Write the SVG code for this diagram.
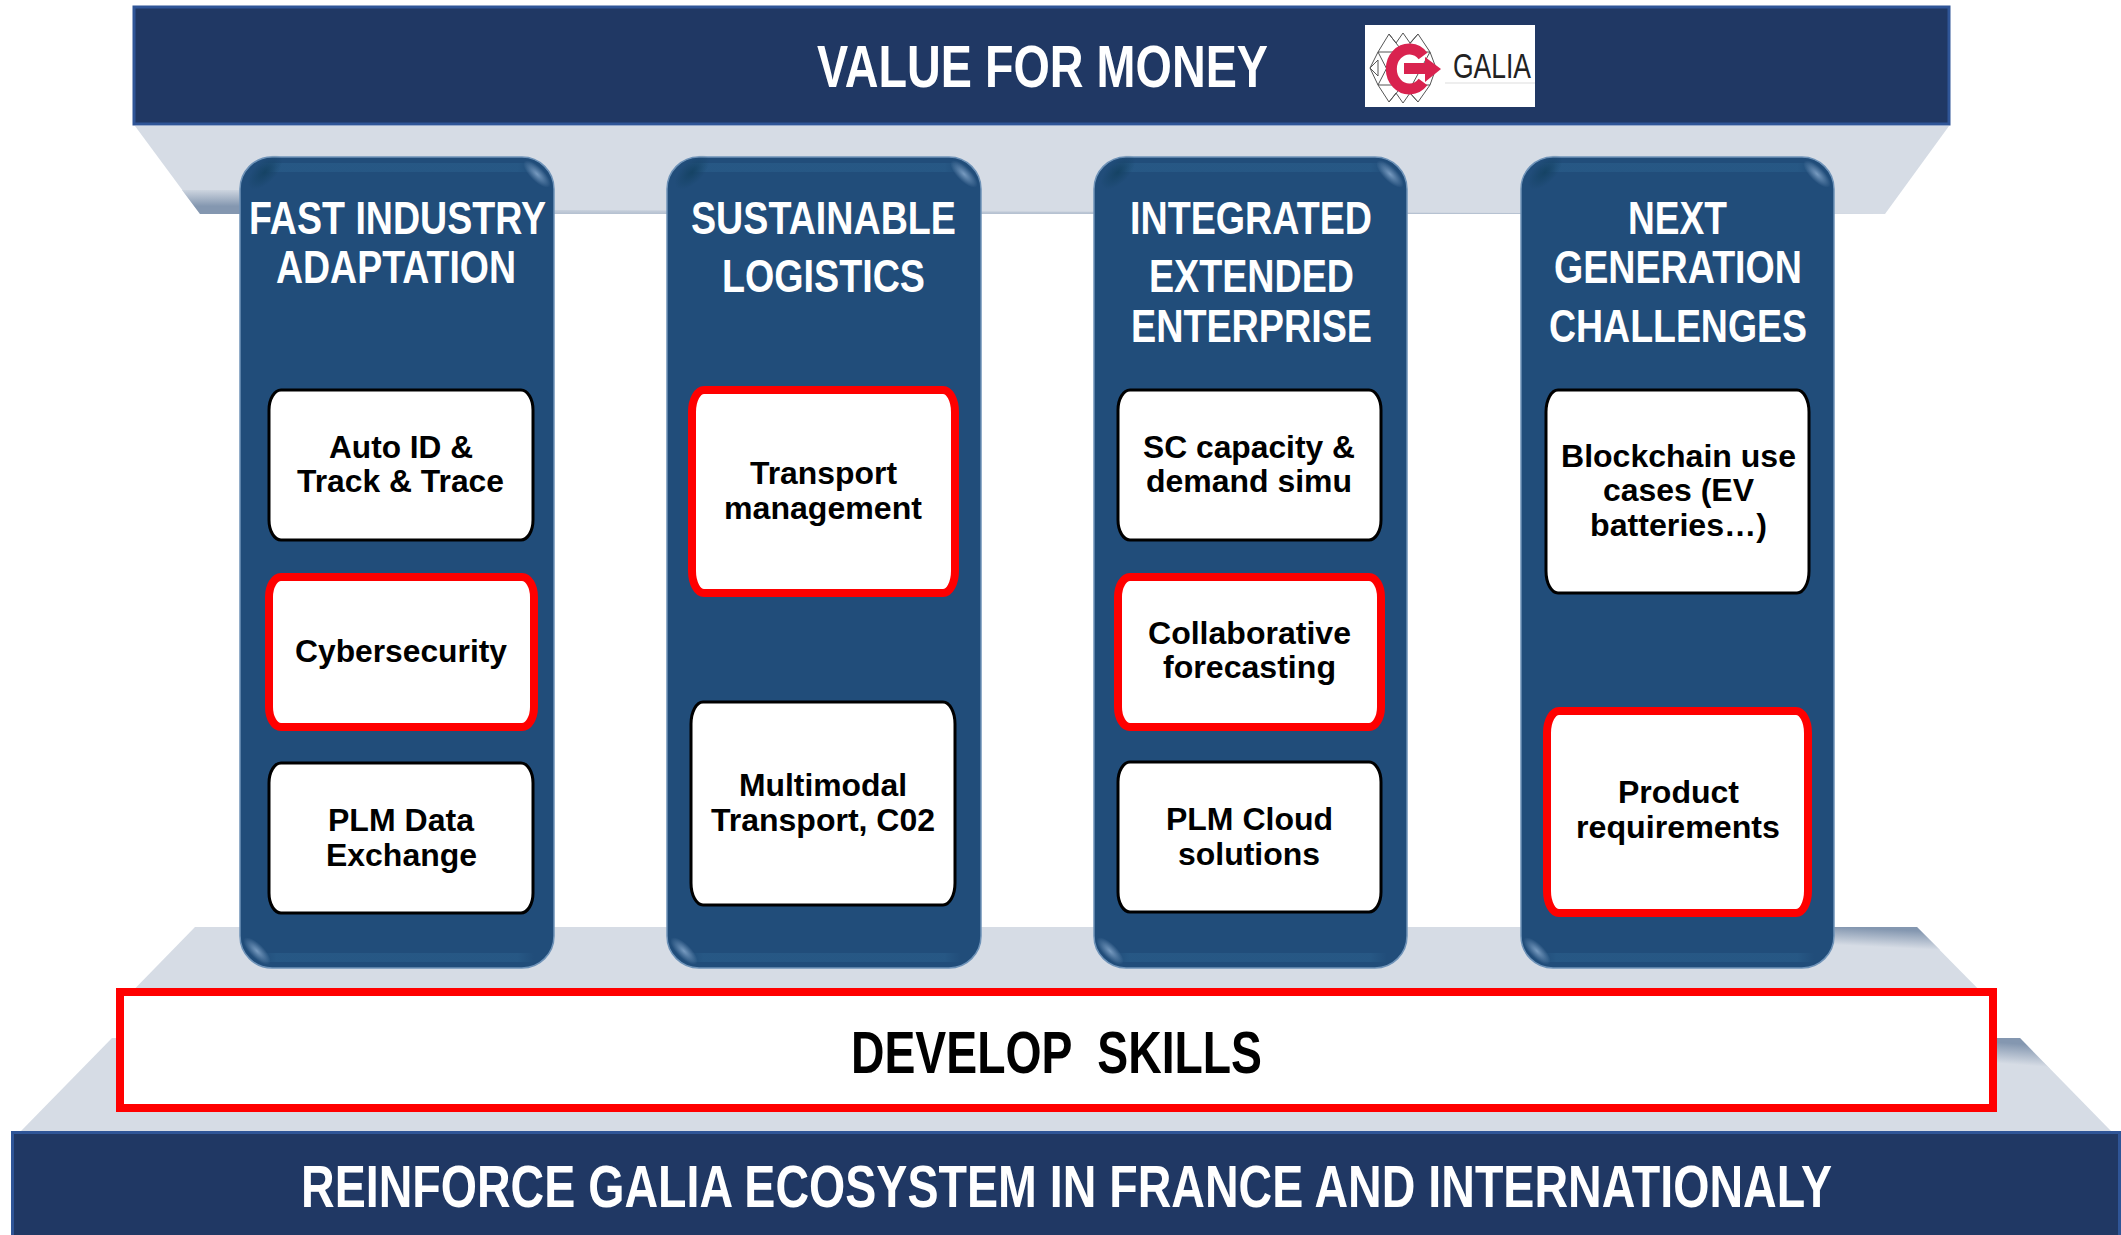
<svg xmlns="http://www.w3.org/2000/svg" width="2121" height="1235" viewBox="0 0 2121 1235">
<style>
.band{fill:#203864;stroke:#2f5597;stroke-width:3}
.plat{fill:#d6dce5}
.pil{fill:#214d7a;stroke:#6f93b8;stroke-width:1.5}
.box{fill:#fff;stroke:#000;stroke-width:3}
.red{fill:#fff;stroke:#f00;stroke-width:8}
.flake{fill:none;stroke:#555;stroke-width:1}
text{font-family:"Liberation Sans",Arial,sans-serif;font-weight:700;text-anchor:start}
.t{fill:#fff;font-size:46px}
.big{font-size:59px}
.b{fill:#000;font-size:32px}
</style>
<defs>
<linearGradient id="sh1" gradientUnits="userSpaceOnUse" x1="0" y1="214" x2="0" y2="188"><stop offset="0" stop-color="#8497b0"/><stop offset="0.3" stop-color="#8497b0"/><stop offset="1" stop-color="#d6dce5"/></linearGradient>
<linearGradient id="sh2" gradientUnits="userSpaceOnUse" x1="1880" y1="927" x2="1879" y2="947"><stop offset="0.1" stop-color="#8497b0"/><stop offset="1" stop-color="#d6dce5"/></linearGradient>
<linearGradient id="sh3" gradientUnits="userSpaceOnUse" x1="2010" y1="1038" x2="2008" y2="1064"><stop offset="0.2" stop-color="#8497b0"/><stop offset="1" stop-color="#d6dce5"/></linearGradient>
<linearGradient id="sh4" gradientUnits="userSpaceOnUse" x1="0" y1="214" x2="0" y2="207"><stop offset="0" stop-color="#b4c0d0"/><stop offset="1" stop-color="#d6dce5"/></linearGradient>
<linearGradient id="lit" x1="0" y1="0" x2="1" y2="0"><stop offset="0" stop-color="#285a87" stop-opacity="0"/><stop offset="0.06" stop-color="#285a87"/><stop offset="0.94" stop-color="#285a87"/><stop offset="1" stop-color="#285a87" stop-opacity="0"/></linearGradient>
<radialGradient id="hl"><stop offset="0" stop-color="#86a8cc" stop-opacity="0.85"/><stop offset="1" stop-color="#86a8cc" stop-opacity="0"/></radialGradient>
<radialGradient id="dk"><stop offset="0" stop-color="#12405f" stop-opacity="0.8"/><stop offset="1" stop-color="#12405f" stop-opacity="0"/></radialGradient>
<symbol id="pillar-shading" viewBox="0 0 314 811" width="314" height="811" overflow="visible">
<rect x="20" y="6" width="274" height="9" fill="url(#lit)" opacity="0.8"/>
<rect x="20" y="796" width="274" height="9" fill="url(#lit)" opacity="0.8"/>
<ellipse cx="25" cy="15" rx="22" ry="11" fill="url(#dk)" transform="rotate(-45 25 15)"/>
<ellipse cx="297" cy="17" rx="18" ry="7" fill="url(#hl)" transform="rotate(45 297 17)"/>
<ellipse cx="17" cy="794" rx="18" ry="7" fill="url(#hl)" transform="rotate(45 17 794)"/>
</symbol>
</defs>
<g id="platforms">
<polygon class="plat" points="135,126 1949,126 1885,214 200,214"/>
<polygon fill="url(#sh1)" points="182,190 245,190 245,214 200,214"/>
<polygon fill="url(#sh4)" points="554,210 1885,214 554,214"/>
<polygon class="plat" points="195,927 1917,927 1997,1008 116,1008"/>
<polygon class="plat" points="112,1038 2020,1038 2111,1131 21,1131"/>
<polygon fill="url(#sh2)" points="1834,927 1917,927 1940,950 1834,950"/>
<polygon fill="url(#sh3)" points="1997,1038 2020,1038 2050,1069 1997,1069"/>
</g>
<g id="value-for-money">
<rect class="band" x="134" y="7" width="1815" height="117"/>
<text class="t big" x="817" y="87" textLength="451" lengthAdjust="spacingAndGlyphs">VALUE FOR MONEY</text>
</g>
<g id="galia-logo">
<rect x="1365" y="25" width="170" height="82" fill="#fff"/>
<path class="flake" d="M1378 52H1430M1378 85H1430M1370 68L1378 52L1389 34L1396 43L1403 33L1410 43L1418 34L1430 52L1436 68L1430 85L1418 102L1410 93L1403 103L1396 93L1389 102L1378 85ZM1389 34L1403 52L1418 34M1389 102L1403 85L1418 102M1370 68L1378 60V76ZM1378 52L1395 85M1430 52L1412 85M1395 52L1378 85"/>
<path d="M1423 56a18 20 0 1 0 0 26" fill="none" stroke="#d9234f" stroke-width="11"/>
<path d="M1404 63H1425V57L1441 69L1425 82V74H1404Z" fill="#d9234f"/>
<path d="M1445 83H1535" stroke="#ddd" stroke-width="1"/>
<text x="1453" y="78" font-size="35" textLength="78" lengthAdjust="spacingAndGlyphs" style="font-weight:400" fill="#222">GALIA</text>
</g>
<g id="pillar-1">
<rect class="pil" x="240" y="157" width="314" height="811" rx="32"/>
<use href="#pillar-shading" x="240" y="157"/>
<text class="t" x="249" y="234" textLength="297" lengthAdjust="spacingAndGlyphs">FAST INDUSTRY</text>
<text class="t" x="276" y="283" textLength="240" lengthAdjust="spacingAndGlyphs">ADAPTATION</text>
</g>
<g id="pillar-2">
<rect class="pil" x="667" y="157" width="314" height="811" rx="32"/>
<use href="#pillar-shading" x="667" y="157"/>
<text class="t" x="691" y="234" textLength="265" lengthAdjust="spacingAndGlyphs">SUSTAINABLE</text>
<text class="t" x="722" y="292" textLength="203" lengthAdjust="spacingAndGlyphs">LOGISTICS</text>
</g>
<g id="pillar-3">
<rect class="pil" x="1094" y="157" width="313" height="811" rx="32"/>
<use href="#pillar-shading" x="1093" y="157"/>
<text class="t" x="1130" y="234" textLength="242" lengthAdjust="spacingAndGlyphs">INTEGRATED</text>
<text class="t" x="1149" y="292" textLength="205" lengthAdjust="spacingAndGlyphs">EXTENDED</text>
<text class="t" x="1131" y="342" textLength="241" lengthAdjust="spacingAndGlyphs">ENTERPRISE</text>
</g>
<g id="pillar-4">
<rect class="pil" x="1521" y="157" width="313" height="811" rx="32"/>
<use href="#pillar-shading" x="1520" y="157"/>
<text class="t" x="1628" y="234" textLength="99" lengthAdjust="spacingAndGlyphs">NEXT</text>
<text class="t" x="1554" y="283" textLength="248" lengthAdjust="spacingAndGlyphs">GENERATION</text>
<text class="t" x="1549" y="342" textLength="258" lengthAdjust="spacingAndGlyphs">CHALLENGES</text>
</g>
<g id="auto-id"><rect class="box" x="269" y="390" width="264" height="150" rx="12" ry="20"/>
<text class="b" x="329" y="458" textLength="144" lengthAdjust="spacingAndGlyphs">Auto ID &amp;</text>
<text class="b" x="297" y="492" textLength="207" lengthAdjust="spacingAndGlyphs">Track &amp; Trace</text></g>
<g id="cybersecurity"><rect class="red" x="269" y="577" width="265" height="150" rx="12" ry="20"/>
<text class="b" x="295" y="662" textLength="212" lengthAdjust="spacingAndGlyphs">Cybersecurity</text></g>
<g id="plm-data"><rect class="box" x="269" y="763" width="264" height="150" rx="12" ry="20"/>
<text class="b" x="328" y="831" textLength="146" lengthAdjust="spacingAndGlyphs">PLM Data</text>
<text class="b" x="326" y="866" textLength="151" lengthAdjust="spacingAndGlyphs">Exchange</text></g>
<g id="transport-mgmt"><rect class="red" x="692" y="390" width="263" height="203" rx="12" ry="22"/>
<text class="b" x="750" y="484" textLength="147" lengthAdjust="spacingAndGlyphs">Transport</text>
<text class="b" x="724" y="519" textLength="198" lengthAdjust="spacingAndGlyphs">management</text></g>
<g id="multimodal"><rect class="box" x="691" y="702" width="264" height="203" rx="12" ry="22"/>
<text class="b" x="739" y="796" textLength="168" lengthAdjust="spacingAndGlyphs">Multimodal</text>
<text class="b" x="711" y="831" textLength="224" lengthAdjust="spacingAndGlyphs">Transport, C02</text></g>
<g id="sc-capacity"><rect class="box" x="1118" y="390" width="263" height="150" rx="12" ry="20"/>
<text class="b" x="1143" y="458" textLength="212" lengthAdjust="spacingAndGlyphs">SC capacity &amp;</text>
<text class="b" x="1146" y="492" textLength="206" lengthAdjust="spacingAndGlyphs">demand simu</text></g>
<g id="collab"><rect class="red" x="1118" y="577" width="263" height="150" rx="12" ry="20"/>
<text class="b" x="1148" y="644" textLength="203" lengthAdjust="spacingAndGlyphs">Collaborative</text>
<text class="b" x="1163" y="678" textLength="173" lengthAdjust="spacingAndGlyphs">forecasting</text></g>
<g id="plm-cloud"><rect class="box" x="1118" y="762" width="263" height="150" rx="12" ry="20"/>
<text class="b" x="1166" y="830" textLength="167" lengthAdjust="spacingAndGlyphs">PLM Cloud</text>
<text class="b" x="1178" y="865" textLength="142" lengthAdjust="spacingAndGlyphs">solutions</text></g>
<g id="blockchain"><rect class="box" x="1546" y="390" width="263" height="203" rx="12" ry="22"/>
<text class="b" x="1561" y="467" textLength="235" lengthAdjust="spacingAndGlyphs">Blockchain use</text>
<text class="b" x="1603" y="501" textLength="151" lengthAdjust="spacingAndGlyphs">cases (EV</text>
<text class="b" x="1590" y="536" textLength="177" lengthAdjust="spacingAndGlyphs">batteries…)</text></g>
<g id="product-req"><rect class="red" x="1547" y="711" width="261" height="202" rx="12" ry="22"/>
<text class="b" x="1618" y="803" textLength="121" lengthAdjust="spacingAndGlyphs">Product</text>
<text class="b" x="1576" y="838" textLength="204" lengthAdjust="spacingAndGlyphs">requirements</text></g>
<g id="develop-skills"><rect x="120" y="992" width="1873" height="116" fill="#fff" stroke="#f00" stroke-width="8"/>
<text class="big" x="851" y="1073" textLength="411" lengthAdjust="spacingAndGlyphs" xml:space="preserve">DEVELOP  SKILLS</text></g>
<g id="reinforce">
<rect x="11" y="1131" width="2110" height="104" fill="#203864"/>
<path d="M12.5 1235V1132.500H2119.500V1235" fill="none" stroke="#2f5597" stroke-width="3"/>
<text class="t" style="font-size:47px" x="301" y="1207" textLength="1531" lengthAdjust="spacingAndGlyphs" transform="translate(301 1207) scale(1 1.255) translate(-301 -1207)">REINFORCE GALIA ECOSYSTEM IN FRANCE AND INTERNATIONALY</text></g>
<g id="connectors"/>
</svg>
